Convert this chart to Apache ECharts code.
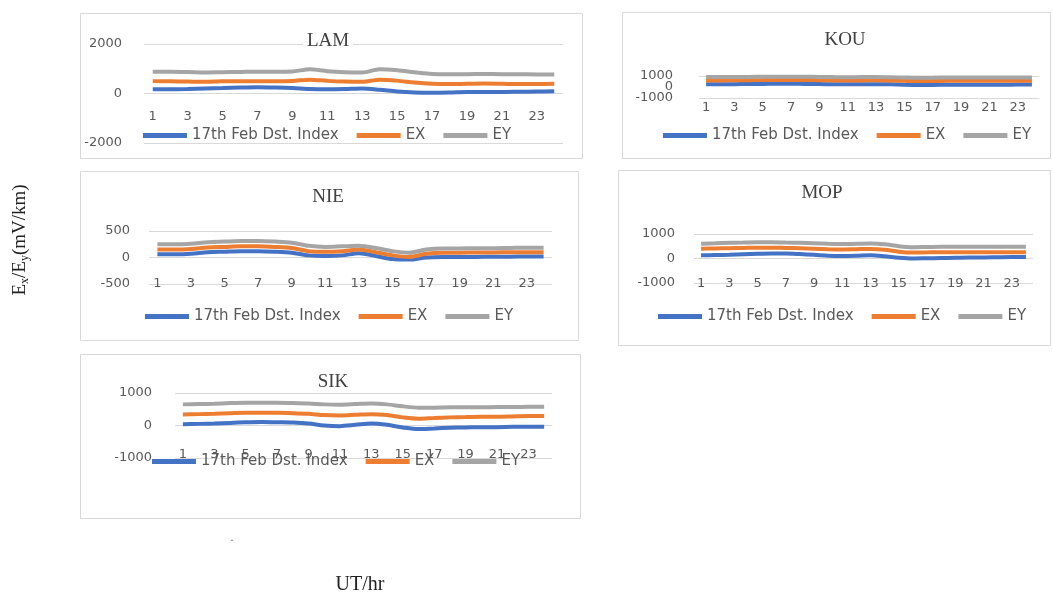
<!DOCTYPE html>
<html>
<head>
<meta charset="utf-8">
<script src="https://cdn.jsdelivr.net/npm/echarts@6/dist/echarts.min.js"></script>
<style>
html,body{margin:0;padding:0;background:#fff;}
#chart{width:1053px;height:597px;}
</style>
</head>
<body>
<div id="chart"></div>
<script>
// ---------- data ----------
const hours = ['1','2','3','4','5','6','7','8','9','10','11','12','13','14','15','16','17','18','19','20','21','22','23','24'];
const seriesNames = ['17th Feb Dst. Index', 'EX', 'EY'];

const lamDst = [170,170,180,200,220,240,250,240,220,180,170,180,200,150,80,40,30,40,60,60,60,70,80,90];
const lamEX  = [500,490,480,470,490,500,500,500,510,560,510,480,470,560,520,440,390,380,390,400,390,380,380,390];
const lamEY  = [880,880,870,850,860,870,880,880,890,980,900,860,850,980,940,860,790,780,780,790,780,780,770,770];

const kouDst = [250,250,260,270,280,290,290,280,270,250,240,250,260,240,200,180,190,200,200,210,210,210,220,220];
const kouEX  = [600,600,610,620,630,640,640,630,620,600,590,600,610,590,560,540,550,560,560,560,560,570,570,570];
const kouEY  = [900,900,910,920,930,940,940,930,920,900,890,900,910,890,860,840,850,860,860,860,860,870,870,870];

const nieDst = [60,60,70,100,110,120,120,110,90,40,30,40,80,30,-30,-40,0,10,10,10,15,15,20,20];
const nieEX  = [150,150,160,190,200,210,210,200,180,120,110,120,150,100,40,10,70,90,90,95,95,100,100,100];
const nieEY  = [250,250,260,290,300,310,310,300,280,220,200,210,220,180,120,90,150,170,170,175,175,180,185,185];

const mopDst = [130,140,150,170,190,200,200,180,150,110,100,110,130,90,30,0,10,20,30,40,40,50,60,60];
const mopEX  = [400,410,420,430,440,440,430,420,400,380,370,380,390,360,280,240,250,260,260,260,260,260,260,260];
const mopEY  = [600,620,640,650,660,660,650,640,620,600,590,600,610,580,500,460,470,480,480,480,480,480,480,480];

const sikDst = [40,50,60,80,100,110,100,90,60,0,-20,20,60,20,-60,-110,-90,-70,-60,-50,-50,-40,-40,-40];
const sikEX  = [340,350,360,380,390,390,390,380,360,320,310,330,350,320,250,210,230,250,260,270,270,280,290,290];
const sikEY  = [650,660,670,690,700,700,700,690,680,650,640,660,680,650,590,550,550,560,560,560,570,570,575,575];

const yTicks = {LAM:[-2000,2000,2000], KOU:[-1000,1000,1000], NIE:[-500,500,500], MOP:[-1000,1000,1000], SIK:[-1000,1000,1000]};

// ---------- layout ----------
const colors = ['#4472C4', '#ED7D31', '#A5A5A5'];
const panels = [
  {name:'LAM', data:[lamDst,lamEX,lamEY], grid:{left:144,top:44,width:419,height:99}, xMargin:-26, yMargin:22,
   box:[80,13,502,145], title:[328,41], legend:[143,136]},
  {name:'KOU', data:[kouDst,kouEX,kouEY], grid:{left:699,top:76,width:340,height:22}, xMargin:10, yMargin:26,
   box:[622,12,428,146], title:[845,40], legend:[663,136], crowded:true},
  {name:'NIE', data:[nieDst,nieEX,nieEY], grid:{left:149,top:231,width:403,height:53}, xMargin:0, yMargin:19,
   box:[80,171,498,169], title:[328,197], legend:[145,317]},
  {name:'MOP', data:[mopDst,mopEX,mopEY], grid:{left:694,top:234,width:339,height:49}, xMargin:1, yMargin:19,
   box:[618,170,432,175], title:[822,193], legend:[658,317]},
  {name:'SIK', data:[sikDst,sikEX,sikEY], grid:{left:175,top:393,width:377,height:65}, xMargin:-3, yMargin:23,
   box:[80,354,500,164], title:[333,382], legend:[152,462]}
];

const sansFont = 'DejaVu Sans';
const serifFont = 'Liberation Serif';
const legendTextWidths = [152, 20, 20];
const grids = [], xAxes = [], yAxes = [], series = [], legends = [], graphics = [];

panels.forEach((p, i) => {
  grids.push(Object.assign({containLabel:false}, p.grid));
  xAxes.push({
    type:'category', gridIndex:i, data:hours, boundaryGap:true,
    axisLine:{show:false}, axisTick:{show:false},
    axisLabel:{interval:1, margin:p.xMargin, verticalAlign:'middle', color:'#595959', fontFamily:sansFont, fontSize:13}
  });
  const yt = yTicks[p.name];
  const yLabelBase = {margin:p.yMargin, color:'#595959', fontFamily:sansFont, fontSize:13, hideOverlap:false};
  const yIndex = yAxes.length;
  if (!p.crowded) {
    yAxes.push({
      type:'value', gridIndex:i, position:'left', min:yt[0], max:yt[1], interval:yt[2],
      axisLine:{show:false}, axisTick:{show:false},
      axisLabel:Object.assign({formatter:v => String(v)}, yLabelBase),
      splitLine:{lineStyle:{color:'#d9d9d9', width:1}}
    });
  } else {
    // outer ticks (min and max) on one axis, middle tick on a twin axis so that crowded labels all stay visible
    yAxes.push({
      type:'value', gridIndex:i, position:'left', offset:0, min:yt[0], max:yt[1], interval:yt[1]-yt[0],
      axisLine:{show:false}, axisTick:{show:false},
      axisLabel:Object.assign({formatter:v => String(v)}, yLabelBase),
      splitLine:{lineStyle:{color:'#d9d9d9', width:1}}
    });
    yAxes.push({
      type:'value', gridIndex:i, position:'left', offset:0, min:yt[0], max:yt[1], interval:yt[2],
      axisLine:{show:false}, axisTick:{show:false},
      axisLabel:Object.assign({formatter:v => (v === 0 ? '0' : '')}, yLabelBase),
      splitLine:{show:false}
    });
  }
  p.data.forEach((d, k) => {
    series.push({
      name:seriesNames[k], type:'line', xAxisIndex:i, yAxisIndex:yIndex, data:d,
      showSymbol:false, symbol:'none', smooth:0.3,
      lineStyle:{width:4, color:colors[k]}, itemStyle:{color:colors[k]}, z:3
    });
  });
  legends.push({
    left:p.legend[0], top:p.legend[1]-8, padding:0, itemGap:18, itemWidth:44, itemHeight:5,
    icon:'rect', selectedMode:false,
    data:seriesNames.map((n, k) => ({name:n, textStyle:{width:legendTextWidths[k]}})),
    textStyle:{color:'#595959', fontFamily:sansFont, fontSize:15}
  });
  graphics.push({
    type:'rect', shape:{x:p.box[0]+0.5, y:p.box[1]+0.5, width:p.box[2], height:p.box[3]},
    style:{fill:null, stroke:'#d9d9d9', lineWidth:1}, z:-10, silent:true
  });
  graphics.push({
    type:'text', x:p.title[0], y:p.title[1], z:50,
    style:{text:p.name, fill:'#404040', font:'19px "Liberation Serif"', align:'center', verticalAlign:'middle',
      backgroundColor:'#fff', padding:[0,4]}
  });
});

// axis titles
graphics.push({
  type:'text', x:20, y:240, rotation:Math.PI/2, z:50,
  style:{
    text:'{a|E}{s|x}{a|/E}{s|y}{a|(mV/km)}',
    align:'center', verticalAlign:'middle',
    rich:{
      a:{fontFamily:serifFont, fontSize:19, fill:'#222', color:'#222', lineHeight:24, verticalAlign:'middle'},
      s:{fontFamily:serifFont, fontSize:12, fill:'#222', color:'#222', lineHeight:24, verticalAlign:'middle', padding:[10,0,0,0]}
    }
  }
});
graphics.push({
  type:'text', x:360, y:585, z:50,
  style:{text:'UT/hr', fill:'#222', font:'20px "Liberation Serif"', align:'center', verticalAlign:'middle'}
});
graphics.push({
  type:'text', x:232, y:538, z:50,
  style:{text:'.', fill:'#666', font:'12px "Liberation Serif"', align:'center', verticalAlign:'middle'}
});

const chart = echarts.init(document.getElementById('chart'), null, {renderer:'canvas'});
chart.setOption({
  backgroundColor:'#fff',
  animation:false,
  grid:grids, xAxis:xAxes, yAxis:yAxes, series:series, legend:legends, graphic:graphics
});
</script>
</body>
</html>
